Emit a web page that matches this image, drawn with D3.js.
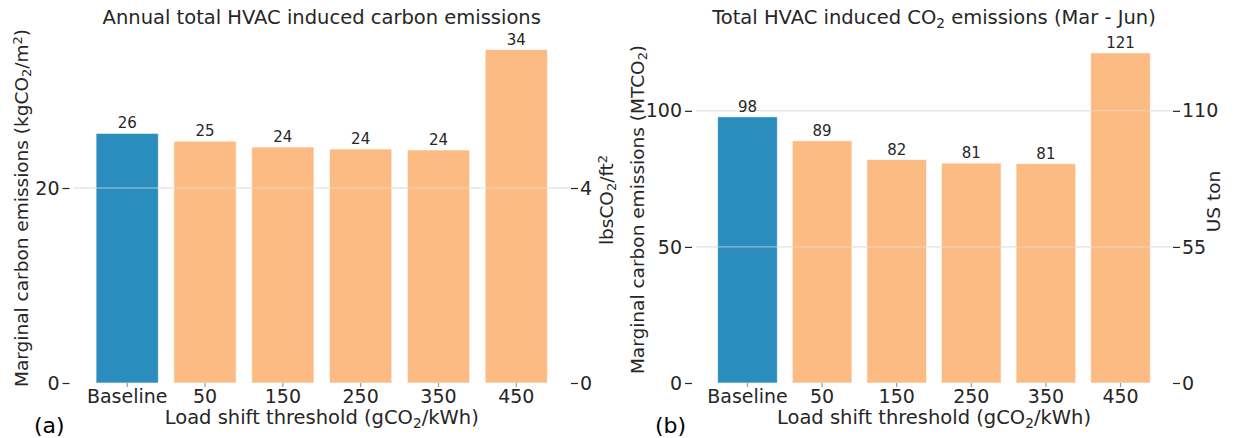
<!DOCTYPE html>
<html>
<head>
<meta charset="utf-8">
<script src="https://cdn.jsdelivr.net/npm/d3@7"></script>
<style>
  body { margin: 0; background: #fff; }
  svg { font-family: "DejaVu Sans", sans-serif; }
</style>
</head>
<body>
<div id="wrapper"></div>
<script>
// DATA
const categories = ["Baseline", "50", "150", "250", "350", "450"];
const annualKgPerM2 = [25.6, 24.8, 24.2, 24.0, 23.9, 34.2];
const springMTCO2 = [97.8, 89.0, 82.1, 80.8, 80.6, 121.3];
const annualTicks = [0, 20];
const annualLbsTicks = [0, 4];
const springTicks = [0, 50, 100];
const springTonTicks = [0, 55, 110];

const blue = "#2b8cbe";
const orange = "#fdbb84";
const ink = "#262626";

const svg = d3.select("#wrapper")
  .append("svg")
  .attr("width", 1236)
  .attr("height", 438);

// text with sub/superscripts: parts = [[text, "sub"|"sup"|null], ...]
function richText(sel, parts, size) {
  parts.forEach(([t, kind]) => {
    const ts = sel.append("tspan").text(t);
    if (kind === "sub") ts.attr("font-size", size * 0.7).attr("baseline-shift", "-25%");
    if (kind === "sup") ts.attr("font-size", size * 0.7).attr("baseline-shift", "45%");
  });
  return sel;
}

function drawPanel(cfg) {
  const g = svg.append("g");
  const x = d3.scaleBand()
    .domain(categories)
    .range([cfg.left, cfg.right])
    .paddingInner(0.2)
    .paddingOuter(0.29);

  const y = d3.scaleLinear().domain([0, cfg.yMax]).range([cfg.bottom, cfg.top]);
  const y2 = d3.scaleLinear().domain([0, cfg.yMax * cfg.factor]).range([cfg.bottom, cfg.top]);

  // grid of primary axis (behind bars)
  g.append("g").selectAll("line")
    .data(cfg.ticks.filter(d => d > 0))
    .join("line")
    .attr("x1", cfg.left).attr("x2", cfg.right)
    .attr("y1", d => y(d)).attr("y2", d => y(d))
    .attr("stroke", "#e3e3e3").attr("stroke-width", 1);

  // bars
  g.append("g").selectAll("rect")
    .data(cfg.values)
    .join("rect")
    .attr("x", (d, i) => x(categories[i]))
    .attr("y", d => y(d))
    .attr("width", x.bandwidth())
    .attr("height", d => y(0) - y(d))
    .attr("fill", (d, i) => i === 0 ? blue : orange)
    .attr("stroke", "#ffffff")
    .attr("stroke-opacity", 0.6)
    .attr("stroke-width", 1);

  // grid of twin axis (drawn over bars)
  g.append("g").selectAll("line")
    .data(cfg.ticks2.filter(d => d > 0))
    .join("line")
    .attr("x1", cfg.left).attr("x2", cfg.right)
    .attr("y1", d => y2(d)).attr("y2", d => y2(d))
    .attr("stroke", "#e3e3e3").attr("stroke-opacity", 0.7).attr("stroke-width", 1);

  // value labels
  g.append("g").selectAll("text")
    .data(cfg.values)
    .join("text")
    .attr("x", (d, i) => x(categories[i]) + x.bandwidth() / 2)
    .attr("y", d => y(d) - 5)
    .attr("text-anchor", "middle")
    .attr("font-size", 15)
    .attr("fill", ink)
    .text(d => Math.round(d));

  // axes
  const styleAxis = a => {
    a.select(".domain").remove();
    a.selectAll(".tick line").attr("stroke", ink).attr("stroke-width", 1.2);
    a.selectAll(".tick text").attr("fill", ink).attr("font-size", 19)
      .attr("font-family", "DejaVu Sans");
  };

  g.append("g")
    .attr("transform", `translate(${cfg.left - 4},0)`)
    .call(d3.axisLeft(y).tickValues(cfg.ticks).tickSize(7).tickPadding(3))
    .call(styleAxis);

  g.append("g")
    .attr("transform", `translate(${cfg.right + 1},0)`)
    .call(d3.axisRight(y2).tickValues(cfg.ticks2).tickSize(7).tickPadding(2))
    .call(styleAxis);

  g.append("g")
    .attr("transform", `translate(0,${cfg.bottom})`)
    .call(d3.axisBottom(x).tickSize(4).tickPadding(3))
    .call(styleAxis)
    .selectAll(".tick line").attr("stroke", "#999");

  // titles & labels
  richText(g.append("text")
    .attr("x", (cfg.left + cfg.right) / 2).attr("y", 24)
    .attr("text-anchor", "middle").attr("font-size", 19.5).attr("fill", ink),
    cfg.title, 19.5);

  richText(g.append("text")
    .attr("x", (cfg.left + cfg.right) / 2).attr("y", 424)
    .attr("text-anchor", "middle").attr("font-size", 19.5).attr("fill", ink),
    [["Load shift threshold (gCO", null], ["2", "sub"], ["/kWh)", null]], 19.5);

  const midY = (cfg.top + cfg.bottom) / 2;
  richText(g.append("text")
    .attr("transform", `translate(${cfg.yLabelX},${midY}) rotate(-90)`)
    .attr("text-anchor", "middle").attr("font-size", 18.5).attr("fill", ink),
    cfg.yLabel, 18.5);

  richText(g.append("text")
    .attr("transform", `translate(${cfg.y2LabelX},${midY - 8}) rotate(-90)`)
    .attr("text-anchor", "middle").attr("font-size", 18.5).attr("fill", ink),
    cfg.y2Label, 18.5);

  g.append("text")
    .attr("x", cfg.tagX).attr("y", 433)
    .attr("font-size", 22).attr("fill", "#000")
    .text(cfg.tag);
}

drawPanel({
  left: 73.5, right: 570, top: 33, bottom: 383,
  yMax: 35.9, factor: 0.2,
  values: annualKgPerM2, ticks: annualTicks, ticks2: annualLbsTicks,
  title: [["Annual total HVAC induced carbon emissions", null]],
  yLabel: [["Marginal carbon emissions (kgCO", null], ["2", "sub"], ["/m", null], ["2", "sup"], [")", null]],
  y2Label: [["lbsCO", null], ["2", "sub"], ["/ft", null], ["2", "sup"]],
  yLabelX: 28, y2LabelX: 613,
  tag: "(a)", tagX: 34
});

drawPanel({
  left: 696, right: 1172, top: 36, bottom: 383,
  yMax: 127.5, factor: 1.1,
  values: springMTCO2, ticks: springTicks, ticks2: springTonTicks,
  title: [["Total HVAC induced CO", null], ["2", "sub"], [" emissions (Mar - Jun)", null]],
  yLabel: [["Marginal carbon emissions (MTCO", null], ["2", "sub"], [")", null]],
  y2Label: [["US ton", null]],
  yLabelX: 644, y2LabelX: 1220,
  tag: "(b)", tagX: 655
});
</script>
</body>
</html>
